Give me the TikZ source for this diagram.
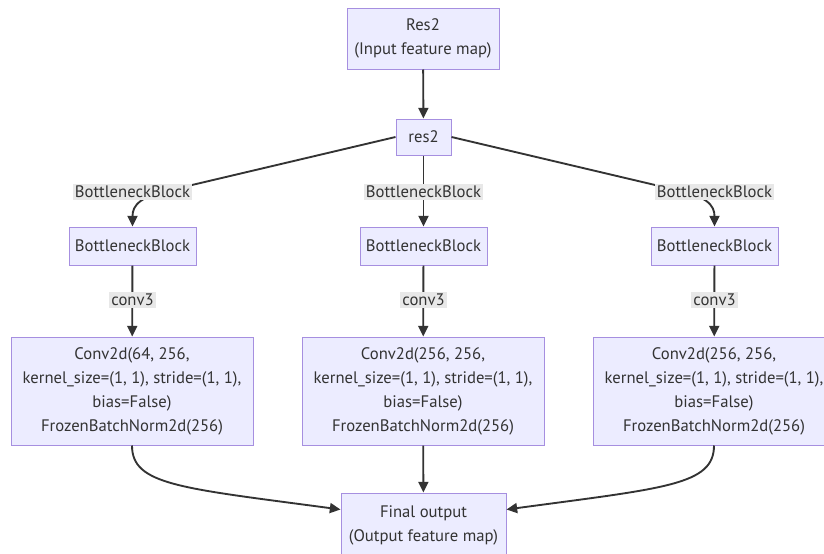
\documentclass[tikz,border=0pt]{standalone}
\usepackage{fontspec}
\setmainfont{PT Sans}
\usetikzlibrary{arrows.meta,calc}
\definecolor{mfill}{HTML}{ECECFF}
\definecolor{mborder}{HTML}{A68FE0}
\definecolor{mtext}{HTML}{333333}
\definecolor{marrow}{HTML}{333333}
\definecolor{lblbg}{HTML}{E8E8E8}
\begin{document}
\begin{tikzpicture}[x=0.75pt,y=-0.75pt,
  box/.style={draw=mborder, fill=mfill, line width=0.75pt, align=center, text=mtext, inner sep=0pt, font=\fontsize{12.5}{18}\selectfont},
  lbl/.style={fill=lblbg, text=mtext, inner sep=1.5pt, font=\fontsize{12.5}{14}\selectfont},
  arr/.style={draw=marrow, line width=1.4pt, -{Triangle[length=8pt,width=7.5pt]}}]
\useasboundingbox (0,0) rectangle (824,553);
\clip (0,0) rectangle (824,553);
\fill[white] (0,0) rectangle (824,553);

\node[box, minimum width=114pt, minimum height=45.75pt] (in) at (423,38.5) {Res2\\(Input feature map)};
\node[box, minimum width=41.25pt, minimum height=27pt] (res2) at (423.5,137) {res2};

\node[box, minimum width=95.25pt, minimum height=28.5pt] (bb1) at (132.5,246) {BottleneckBlock};
\node[box, minimum width=95.25pt, minimum height=28.5pt] (bb2) at (423.5,246) {BottleneckBlock};
\node[box, minimum width=95.25pt, minimum height=28.5pt] (bb3) at (714.5,246) {BottleneckBlock};

\node[box, minimum width=181.5pt, minimum height=81pt] (c1) at (132,391) {Conv2d(64, 256,\\kernel\_size=(1, 1), stride=(1, 1),\\bias=False)\\FrozenBatchNorm2d(256)};
\node[box, minimum width=181.5pt, minimum height=81pt] (c2) at (423,391) {Conv2d(256, 256,\\kernel\_size=(1, 1), stride=(1, 1),\\bias=False)\\FrozenBatchNorm2d(256)};
\node[box, minimum width=181.5pt, minimum height=81pt] (c3) at (714,391) {Conv2d(256, 256,\\kernel\_size=(1, 1), stride=(1, 1),\\bias=False)\\FrozenBatchNorm2d(256)};

\node[box, minimum width=123.75pt, minimum height=48pt] (out) at (423.5,525) {Final output\\(Output feature map)};

\coordinate (outL) at ($(out.north west)+(0,17)$);
\coordinate (outR) at ($(out.north east)+(0,17)$);

% edges
\draw[arr] (in) -- (res2);
\draw[arr] (res2.west) -- (175,189) .. controls (140,196) and (132.5,205) .. (bb1.north);
\draw[arr] (res2) -- (bb2);
\draw[arr] (res2.east) -- (672,189) .. controls (707,196) and (714.5,205) .. (bb3.north);

\draw[arr] (bb1) -- (c1);
\draw[arr] (bb2) -- (c2);
\draw[arr] (bb3) -- (c3);

\draw[arr] (c1.south) .. controls (132,485) and (180,488) .. (outL);
\draw[arr] (c2) -- (out);
\draw[arr] (c3.south) .. controls (714,485) and (666,488) .. (outR);

% labels
\node[lbl] (l1) at (132.5,192) {BottleneckBlock};
\node[lbl] (l2) at (423.5,192) {BottleneckBlock};
\node[lbl] (l3) at (714.5,192) {BottleneckBlock};
\node[lbl] (k1) at (132.5,300) {conv3};
\node[lbl] (k2) at (423.5,300) {conv3};
\node[lbl] (k3) at (714.5,300) {conv3};
\end{tikzpicture}
\end{document}
